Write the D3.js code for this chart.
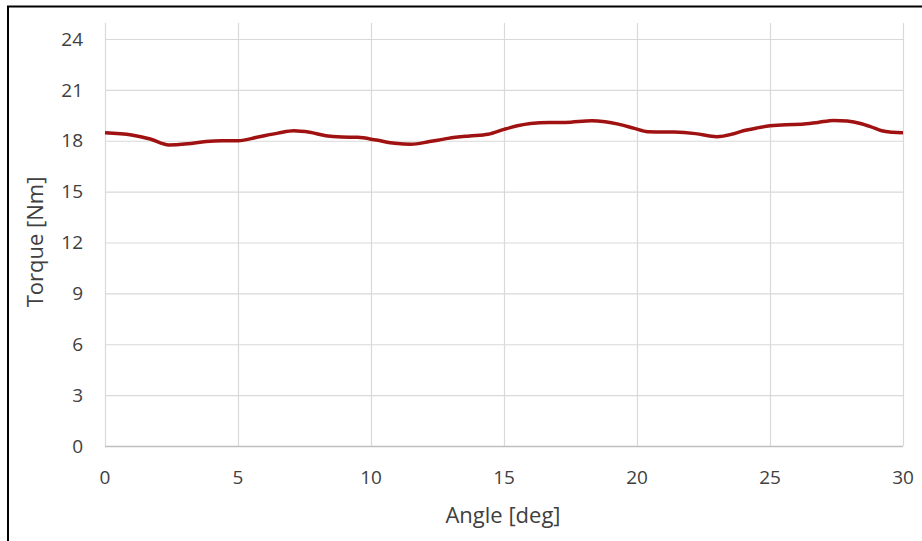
<!DOCTYPE html>
<html>
<head>
    <meta charset="UTF-8">
    <title>Torque vs angle</title>
    <script src="https://d3js.org/d3.v7.min.js"></script>
    <style>
        body { margin: 0; background: #fff; }
        text { font-family: "Open Sans", sans-serif; fill: #404040; }
    </style>
</head>
<body>
    <div id="chart"></div>

    <script>
        // torque curve
        var angle = [0, 1.0, 1.7, 2.4, 3.1, 3.8, 4.4, 5.0, 5.8, 6.5, 7.1, 7.7, 8.3, 8.9, 9.5, 10.2, 10.9, 11.5, 12.2, 12.9, 13.7, 14.4, 15.0, 15.5, 16.0, 16.7, 17.3, 18.3, 18.8, 19.3, 19.9, 20.4, 21.4, 22.2, 23.0, 23.6, 24.0, 24.5, 25.0, 25.6, 26.2, 26.8, 27.4, 27.9, 28.4, 28.8, 29.2, 29.6, 30];
        var torque = [18.47, 18.34, 18.1, 17.75, 17.82, 17.96, 18.0, 18.0, 18.24, 18.45, 18.59, 18.5, 18.3, 18.22, 18.2, 18.04, 17.85, 17.79, 17.95, 18.14, 18.28, 18.38, 18.67, 18.88, 19.02, 19.08, 19.08, 19.18, 19.12, 18.98, 18.73, 18.53, 18.51, 18.42, 18.24, 18.4, 18.59, 18.75, 18.88, 18.95, 18.97, 19.08, 19.2, 19.16, 19.02, 18.82, 18.59, 18.5, 18.47];

        var xTicks = [0, 5, 10, 15, 20, 25, 30];
        var yTicks = [0, 3, 6, 9, 12, 15, 18, 21, 24];

        var W = 922, H = 541;
        var svg = d3.select("#chart").append("svg")
            .attr("width", W)
            .attr("height", H);

        // black frame round the figure (right and bottom run off the page)
        svg.append("rect")
            .attr("x", 8).attr("y", 6.5)
            .attr("width", W).attr("height", H)
            .attr("fill", "none")
            .attr("stroke", "#000")
            .attr("stroke-width", 2);

        var x = d3.scaleLinear().domain([0, 30]).range([105, 903]);
        var y = d3.scaleLinear().domain([0, 24]).range([446, 39]);

        // horizontal grid
        svg.append("g")
            .selectAll("line")
            .data(yTicks.filter(function (d) { return d > 0; }))
            .enter().append("line")
            .attr("x1", x(0)).attr("x2", x(30))
            .attr("y1", function (d) { return y(d) + 0.5; })
            .attr("y2", function (d) { return y(d) + 0.5; })
            .attr("stroke", "#d9d9d9")
            .attr("stroke-width", 1.2);

        // vertical grid, runs a little above the top tick like Excel does
        svg.append("g")
            .selectAll("line")
            .data(xTicks)
            .enter().append("line")
            .attr("x1", function (d) { return x(d) + 0.5; })
            .attr("x2", function (d) { return x(d) + 0.5; })
            .attr("y1", y(24) - 16).attr("y2", y(0))
            .attr("stroke", "#d9d9d9")
            .attr("stroke-width", 1.2);

        // x axis line
        svg.append("line")
            .attr("x1", x(0)).attr("x2", x(30))
            .attr("y1", y(0) + 0.5).attr("y2", y(0) + 0.5)
            .attr("stroke", "#bfbfbf")
            .attr("stroke-width", 1.5);

        // tick labels
        svg.append("g")
            .selectAll("text")
            .data(yTicks)
            .enter().append("text")
            .attr("x", 83)
            .attr("y", function (d) { return y(d); })
            .attr("dy", "0.35em")
            .attr("text-anchor", "end")
            .style("font-size", "19px")
            .text(function (d) { return d; });

        svg.append("g")
            .selectAll("text")
            .data(xTicks)
            .enter().append("text")
            .attr("x", function (d) { return x(d); })
            .attr("y", 477)
            .attr("dy", "0.35em")
            .attr("text-anchor", "middle")
            .style("font-size", "19px")
            .text(function (d) { return d; });

        // axis titles
        svg.append("text")
            .attr("x", 503)
            .attr("y", 515)
            .attr("dy", "0.35em")
            .attr("text-anchor", "middle")
            .style("font-size", "22px")
            .text("Angle [deg]");

        svg.append("text")
            .attr("transform", "translate(35,242) rotate(-90)")
            .attr("dy", "0.35em")
            .attr("text-anchor", "middle")
            .style("font-size", "22px")
            .text("Torque [Nm]");

        // the curve
        var line = d3.line()
            .x(function (d, i) { return x(angle[i]); })
            .y(function (d) { return y(d); })
            .curve(d3.curveMonotoneX);

        svg.append("path")
            .datum(torque)
            .attr("d", line)
            .attr("fill", "none")
            .attr("stroke", "#a01212")
            .attr("stroke-width", 3.5)
            .attr("stroke-linejoin", "round");
    </script>
</body>
</html>
